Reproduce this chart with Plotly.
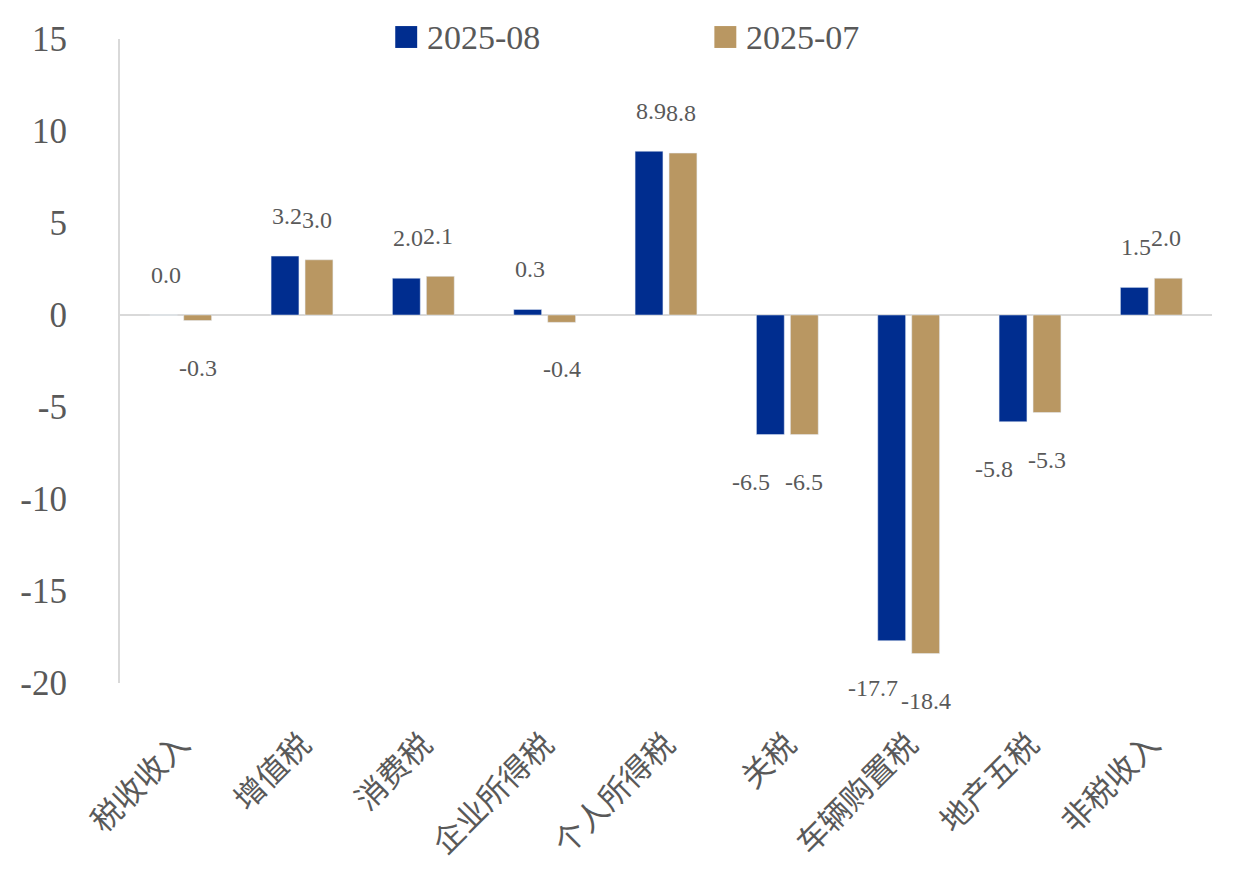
import plotly.graph_objects as go

categories = ['税收收入', '增值税', '消费税', '企业所得税', '个人所得税', '关税', '车辆购置税', '地产五税', '非税收入']
aug_values = [0.0, 3.2, 2.0, 0.3, 8.9, -6.5, -17.7, -5.8, 1.5]
jul_values = [-0.3, 3.0, 2.1, -0.4, 8.8, -6.5, -18.4, -5.3, 2.0]
series_names = ['2025-08', '2025-07']
y_ticks = [15, 10, 5, 0, -5, -10, -15, -20]

BLUE = '#002D8F'
TAN = '#B99762'
TEXT = '#595959'
AXIS = '#D9D9D9'
FONT = 'Liberation Serif, Noto Sans CJK SC, serif'

# plot area in figure coordinates (page has an 8px body offset)
L, T, R, B = 109, 28, 1204, 675
PW, PH = R - L, B - T

fig = go.Figure()
fig.add_trace(go.Bar(x=categories, y=aug_values, name=series_names[0],
                     marker=dict(color=BLUE), showlegend=False))
fig.add_trace(go.Bar(x=categories, y=jul_values, name=series_names[1],
                     marker=dict(color=TAN), showlegend=False))

annotations = []
for vals, base_shift, neg_shift in [(aug_values, -15, -36), (jul_values, 15, 17)]:
    for c, v in zip(categories, vals):
        pos = v >= 0
        annotations.append(dict(
            x=c, y=v, xref='x', yref='y', text=f'{v:.1f}', showarrow=False,
            xshift=base_shift if pos else neg_shift,
            yshift=40 if pos else -47,
            font=dict(family=FONT, size=24, color=TEXT)))

# legend drawn manually for larger square swatches
legend_items = [(series_names[0], BLUE, 385), (series_names[1], TAN, 705)]
shapes = []
for name, col, px in legend_items:
    shapes.append(dict(type='rect', xref='paper', yref='paper',
                       x0=(px - L) / PW, x1=(px + 22 - L) / PW,
                       y0=1 + (T - 37) / PH, y1=1 + (T - 15) / PH,
                       fillcolor=col, line=dict(width=0)))
    annotations.append(dict(x=(px + 30 - L) / PW, y=1 + (T - 26) / PH,
                            xref='paper', yref='paper', xanchor='left', yanchor='middle',
                            text=name, showarrow=False,
                            font=dict(family=FONT, size=34, color=TEXT)))

fig.update_layout(
    width=1236, height=879,
    margin=dict(l=L, r=1236 - R, t=T, b=879 - B),
    paper_bgcolor='white', plot_bgcolor='white',
    barmode='group', bargap=0.44, bargroupgap=0.18,
    annotations=annotations, shapes=shapes,
    font=dict(family=FONT, color=TEXT),
)
fig.update_yaxes(range=[-20, 15], tickvals=y_ticks, ticktext=[str(t) for t in y_ticks],
                 showgrid=False, zeroline=True, zerolinecolor=AXIS, zerolinewidth=2,
                 showline=True, linecolor=AXIS, linewidth=2,
                 ticks='', ticklabelstandoff=44,
                 tickfont=dict(family=FONT, size=35, color=TEXT))
fig.update_xaxes(showgrid=False, showline=False, ticks='', tickangle=-45,
                 ticklabelstandoff=36,
                 tickfont=dict(family='Noto Sans CJK SC, sans-serif', size=31, color=TEXT))

fig.write_html('out.html')
